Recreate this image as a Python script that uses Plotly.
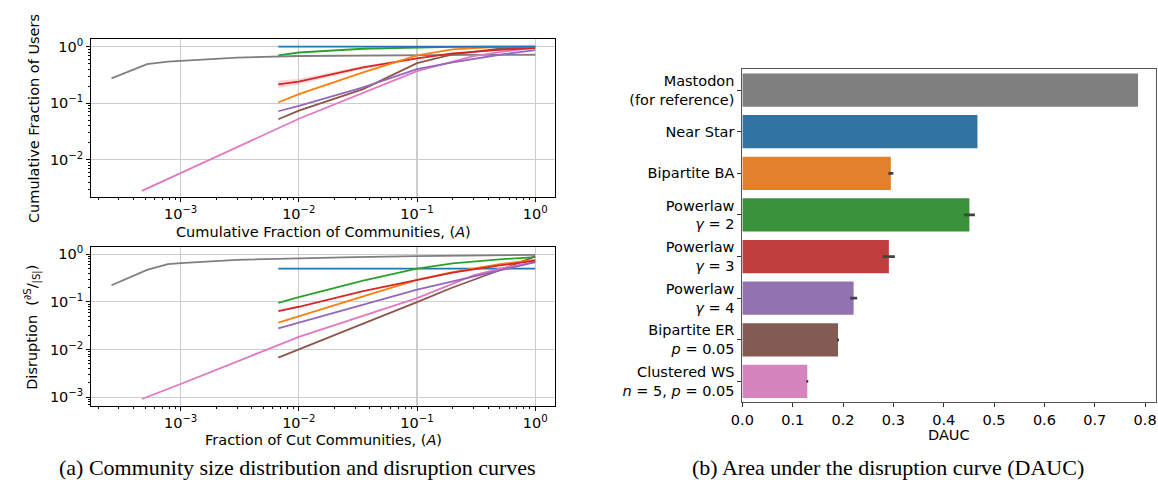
import plotly.graph_objects as go

# ---------------- data ----------------
# (a) top: cumulative fraction of users vs cumulative fraction of communities
mast_x = [2.6e-4, 5.2e-4, 7.8e-4, 1e-3, 3e-3, 1e-2, 3e-2, 0.1, 0.3, 1.0]
mast_top = [0.275, 0.49, 0.545, 0.56, 0.64, 0.685, 0.70, 0.71, 0.715, 0.72]

model_x = [0.0067, 0.01, 0.035, 0.1, 0.2, 0.5, 1.0]
near_star_top = [1.0, 1.0, 1.0, 1.0, 1.0, 1.0, 1.0]
bip_ba_top = [0.103, 0.145, 0.35, 0.70, 0.90, 0.99, 1.0]
pl2_top = [0.70, 0.79, 0.92, 0.97, 0.99, 1.0, 1.0]
pl3_top = [0.215, 0.24, 0.43, 0.62, 0.76, 0.88, 0.94]
pl3_top_lo = [0.185, 0.215, 0.40, 0.60, 0.75, 0.875, 0.935]
pl3_top_hi = [0.25, 0.27, 0.46, 0.64, 0.77, 0.885, 0.945]
pl4_top = [0.072, 0.09, 0.19, 0.40, 0.53, 0.72, 0.87]
bip_er_top = [0.052, 0.074, 0.177, 0.51, 0.73, 0.92, 0.97]

ws_x = [4.7e-4, 1e-3, 0.01, 0.1, 0.3, 0.5, 1.0]
ws_top = [0.0028, 0.0058, 0.053, 0.37, 0.68, 0.80, 0.95]

# (a) bottom: disruption vs fraction of cut communities
mast_bot = [0.223, 0.47, 0.62, 0.65, 0.76, 0.83, 0.87, 0.91, 0.94, 0.97]
near_star_bot = [0.5, 0.5, 0.5, 0.5, 0.5, 0.5, 0.5]
bip_ba_bot = [0.0366, 0.050, 0.13, 0.29, 0.42, 0.62, 0.76]
pl2_bot = [0.095, 0.125, 0.28, 0.50, 0.64, 0.78, 0.87]
pl3_bot = [0.064, 0.079, 0.167, 0.29, 0.41, 0.58, 0.73]
pl4_bot = [0.0279, 0.0366, 0.088, 0.18, 0.27, 0.46, 0.68]
bip_er_bot = [0.0068, 0.0102, 0.035, 0.099, 0.2, 0.46, 0.90]
ws_bot = [9.2e-4, 0.0019, 0.0185, 0.12, 0.36, 0.50, 0.68]

# (b) DAUC bars
bar_labels = [
    "Mastodon<br>(for reference)",
    "Near Star",
    "Bipartite BA",
    "Powerlaw<br><i>γ</i> = 2",
    "Powerlaw<br><i>γ</i> = 3",
    "Powerlaw<br><i>γ</i> = 4",
    "Bipartite ER<br><i>p</i> = 0.05",
    "Clustered WS<br><i>n</i> = 5, <i>p</i> = 0.05",
]
dauc = [0.786, 0.467, 0.295, 0.451, 0.291, 0.221, 0.190, 0.129]
dauc_err = [0.0, 0.0, 0.005, 0.011, 0.012, 0.007, 0.002, 0.002]

log_tickvals_x = [1e-3, 1e-2, 1e-1, 1.0]
log_ticktext_x = ["10<sup>−3</sup>", "10<sup>−2</sup>", "10<sup>−1</sup>", "10<sup>0</sup>"]
top_tickvals_y = [1e-2, 1e-1, 1.0]
top_ticktext_y = ["10<sup>−2</sup>", "10<sup>−1</sup>", "10<sup>0</sup>"]
bot_tickvals_y = [1e-3, 1e-2, 1e-1, 1.0]
bot_ticktext_y = ["10<sup>−3</sup>", "10<sup>−2</sup>", "10<sup>−1</sup>", "10<sup>0</sup>"]
dauc_ticks = [0.0, 0.1, 0.2, 0.3, 0.4, 0.5, 0.6, 0.7, 0.8]
dauc_ticktext = ["0.0", "0.1", "0.2", "0.3", "0.4", "0.5", "0.6", "0.7", "0.8"]

# ---------------- styling ----------------
W, H = 1158, 489
FONT = "DejaVu Sans"
FS = 14.5
C = dict(blue="#1f77b4", orange="#ff7f0e", green="#2ca02c", red="#d62728",
         purple="#9467bd", brown="#8c564b", pink="#e377c2", gray="#7f7f7f")
BAR_COLORS = ["#7f7f7f", "#3274a1", "#e1812c", "#3a923a", "#c03d3e",
              "#9372b2", "#845b53", "#d684bd"]
LW = 1.8


def px_x(p):
    return p / W


def px_y(p):
    return 1 - p / H


def minor_vals(lo_exp, hi_exp):
    vals = []
    for e in range(lo_exp, hi_exp):
        for m in range(2, 10):
            vals.append(m * 10.0 ** e)
    return vals


fig = go.Figure()


def add_line(x, y, color, xa, ya):
    fig.add_trace(go.Scatter(x=x, y=y, mode="lines", line=dict(color=color, width=LW),
                             xaxis=xa, yaxis=ya, showlegend=False, hoverinfo="skip"))


# top panel
fig.add_trace(go.Scatter(x=model_x + model_x[::-1], y=pl3_top_hi + pl3_top_lo[::-1],
                         mode="lines", fill="toself", fillcolor="rgba(214,39,40,0.18)",
                         line=dict(width=0), xaxis="x", yaxis="y",
                         showlegend=False, hoverinfo="skip"))
add_line(mast_x, mast_top, C["gray"], "x", "y")
add_line(ws_x, ws_top, C["pink"], "x", "y")
add_line(model_x, bip_er_top, C["brown"], "x", "y")
add_line(model_x, pl4_top, C["purple"], "x", "y")
add_line(model_x, pl3_top, C["red"], "x", "y")
add_line(model_x, bip_ba_top, C["orange"], "x", "y")
add_line(model_x, pl2_top, C["green"], "x", "y")
add_line(model_x, near_star_top, C["blue"], "x", "y")

# bottom panel
add_line(mast_x, mast_bot, C["gray"], "x2", "y2")
add_line(model_x, near_star_bot, C["blue"], "x2", "y2")
add_line(model_x, bip_er_bot, C["brown"], "x2", "y2")
add_line(ws_x, ws_bot, C["pink"], "x2", "y2")
add_line(model_x, pl4_bot, C["purple"], "x2", "y2")
add_line(model_x, bip_ba_bot, C["orange"], "x2", "y2")
add_line(model_x, pl3_bot, C["red"], "x2", "y2")
add_line(model_x, pl2_bot, C["green"], "x2", "y2")

# bar chart
fig.add_trace(go.Bar(x=dauc, y=bar_labels, orientation="h", width=0.8,
                     marker=dict(color=BAR_COLORS, line=dict(width=0)),
                     error_x=dict(type="data", array=dauc_err, color="#424242",
                                  thickness=2.7, width=0),
                     xaxis="x3", yaxis="y3", showlegend=False, hoverinfo="skip"))

tickfont = dict(family=FONT, size=FS, color="black")
grid = dict(showgrid=True, gridcolor="#cccccc", gridwidth=1.2)
frame = dict(showline=True, linecolor="black", linewidth=1, mirror=True)

xlog = dict(type="log", range=[-3.757, 0.17], tickvals=log_tickvals_x,
            ticktext=log_ticktext_x, ticks="outside", ticklen=4, tickcolor="black",
            tickfont=tickfont, zeroline=False,
            minor=dict(tickvals=minor_vals(-4, 0), ticks="outside", ticklen=2.5,
                       tickcolor="black", showgrid=False),
            **grid, **frame)

left_dom = [px_x(80), px_x(549)]
fig.update_layout(
    width=W, height=H, margin=dict(l=0, r=0, t=0, b=0),
    paper_bgcolor="white", plot_bgcolor="white",
    font=dict(family=FONT, size=FS, color="black"),
    xaxis=dict(domain=left_dom, anchor="y", **xlog),
    yaxis=dict(domain=[px_y(195), px_y(36.7)], anchor="x", type="log",
               range=[-2.657, 0.128], tickvals=top_tickvals_y, ticktext=top_ticktext_y,
               ticks="outside", ticklen=4, tickcolor="black", tickfont=tickfont,
               zeroline=False,
               minor=dict(tickvals=minor_vals(-3, 0), ticks="outside", ticklen=2.5,
                          tickcolor="black", showgrid=False),
               **grid, **frame),
    xaxis2=dict(domain=left_dom, anchor="y2", **xlog),
    yaxis2=dict(domain=[px_y(405), px_y(246)], anchor="x2", type="log",
                range=[-3.173, 0.14], tickvals=bot_tickvals_y, ticktext=bot_ticktext_y,
                ticks="outside", ticklen=4, tickcolor="black", tickfont=tickfont,
                zeroline=False,
                minor=dict(tickvals=minor_vals(-4, 0), ticks="outside", ticklen=2.5,
                           tickcolor="black", showgrid=False),
                **grid, **frame),
    xaxis3=dict(domain=[px_x(738), px_x(1156)], anchor="y3", range=[0, 0.8217],
                tickvals=dauc_ticks, ticktext=dauc_ticktext, ticks="outside",
                ticklen=4, tickcolor="#333", tickfont=tickfont, showgrid=False,
                zeroline=False, showline=True, linecolor="#555", linewidth=1,
                mirror=True, ticklabeloverflow="allow"),
    yaxis3=dict(domain=[px_y(401.7), px_y(66.7)], anchor="x3", type="category",
                range=[7.5, -0.5], ticks="outside", ticklen=4, tickcolor="#333",
                tickfont=tickfont, showgrid=False, zeroline=False, showline=True,
                linecolor="#555", linewidth=1, mirror=True),
    bargap=0.2,
)

ann = []


def text(x, y, s, size=FS, family=FONT, angle=0):
    ann.append(dict(x=x, y=y, xref="paper", yref="paper", text=s, showarrow=False,
                    xanchor="center", yanchor="middle", textangle=angle,
                    font=dict(family=family, size=size, color="black")))


mid_left = (80 + 549) / 2
text(px_x(mid_left), px_y(230), "Cumulative Fraction of Communities, (<i>A</i>)")
text(px_x(mid_left), px_y(439.3), "Fraction of Cut Communities, (<i>A</i>)")
text(px_x(23), px_y(116), "Cumulative Fraction of Users", angle=-90)
text(px_x(20), px_y(326), "Disruption  (<sup>∂S</sup>/<sub>|S|</sub>)", angle=-90)
text(px_x(947), px_y(435), "DAUC")
text(px_x(288), px_y(467), "(a) Community size distribution and disruption curves",
     size=22, family="Liberation Serif")
text(px_x(885), px_y(467), "(b) Area under the disruption curve (DAUC)",
     size=22, family="Liberation Serif")
fig.update_layout(annotations=ann)

fig.write_html(
    "out.html",
    config={"displayModeBar": False, "staticPlot": True},
    post_script="document.body.style.margin='0';document.body.style.overflow='hidden';",
)
